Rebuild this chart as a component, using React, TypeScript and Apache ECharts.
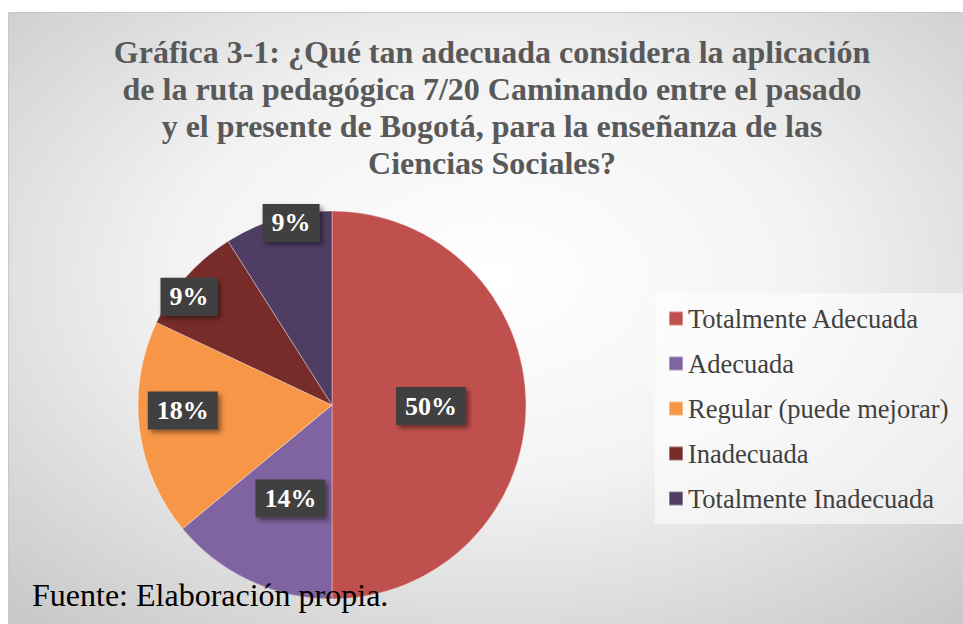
import React, { useEffect, useRef } from "react";
import * as echarts from "echarts";

const categories = [
  "Totalmente Adecuada",
  "Adecuada",
  "Regular (puede mejorar)",
  "Inadecuada",
  "Totalmente Inadecuada",
];
const percentages = [50, 14, 18, 9, 9];
const colors = ["#C0504D", "#8064A2", "#F79646", "#772C2A", "#4F3D63"];
const labelOffsets: [number, number][] = [
  [-1, 1],
  [1, 3],
  [-50, -7],
  [-68, -42],
  [-13, -86],
];
const titleText =
  "Gráfica 3-1: ¿Qué tan adecuada considera la aplicación\nde la ruta pedagógica 7/20 Caminando entre el pasado\ny el presente de Bogotá, para la enseñanza de las\nCiencias Sociales?";
const footerText = "Fuente: Elaboración propia.";

export default function App() {
  const ref = useRef<HTMLDivElement>(null);
  useEffect(() => {
    if (!ref.current) return;
    const chart = echarts.init(ref.current, undefined, { renderer: "svg" });
    const serif = "Liberation Serif";
    chart.setOption({
      animation: false,
      backgroundColor: "#ffffff",
      graphic: [
        {
          type: "rect",
          z: -10,
          shape: { x: 8.5, y: 12.5, width: 970, height: 630 },
          style: {
            fill: new echarts.graphic.RadialGradient(0.5, 0.42, 0.72, [
              { offset: 0, color: "#ffffff" },
              { offset: 0.45, color: "#f3f3f3" },
              { offset: 1, color: "#c9c9c9" },
            ]),
            stroke: "#c8c8c8",
            lineWidth: 1,
          },
        },
        {
          type: "text",
          z: 10,
          x: 492,
          y: 33,
          style: {
            text: titleText,
            fontFamily: serif,
            fontWeight: "bold",
            fontSize: 32,
            fill: "#595959",
            align: "center",
            verticalAlign: "top",
            lineHeight: 37,
          },
        },
        {
          type: "text",
          z: 100,
          x: 32,
          y: 595,
          style: {
            text: footerText,
            fontFamily: serif,
            fontSize: 32,
            fill: "#000000",
            align: "left",
            verticalAlign: "middle",
          },
        },
      ],
      legend: {
        orient: "vertical",
        left: 655,
        top: 293,
        padding: [12, 40, 12, 13],
        backgroundColor: "rgba(255,255,255,0.55)",
        itemWidth: 14,
        itemHeight: 14,
        itemGap: 18,
        icon: "rect",
        textStyle: {
          fontFamily: serif,
          fontSize: 26.5,
          lineHeight: 26,
          color: "#404040",
        },
        data: categories,
      },
      series: [
        {
          type: "pie",
          center: [332, 405],
          radius: 194,
          startAngle: 90,
          clockwise: true,
          itemStyle: {
            borderColor: "rgba(255,255,255,0.35)",
            borderWidth: 1,
          },
          label: {
            show: true,
            position: "inside",
            formatter: "{c}%",
            fontFamily: serif,
            fontWeight: "bold",
            fontSize: 26,
            color: "#ffffff",
            backgroundColor: "#404040",
            padding: [7, 9, 5, 9],
            shadowColor: "rgba(0,0,0,0.45)",
            shadowBlur: 5,
            shadowOffsetX: 3,
            shadowOffsetY: 3,
          },
          emphasis: { disabled: true },
          data: categories.map((name, i) => ({
            name,
            value: percentages[i],
            itemStyle: { color: colors[i] },
            label: { offset: labelOffsets[i] },
          })),
        },
      ],
    });
    return () => chart.dispose();
  }, []);
  return (
    <div
      ref={ref}
      style={{ position: "fixed", left: 0, top: 0, width: 963, height: 624 }}
    />
  );
}
